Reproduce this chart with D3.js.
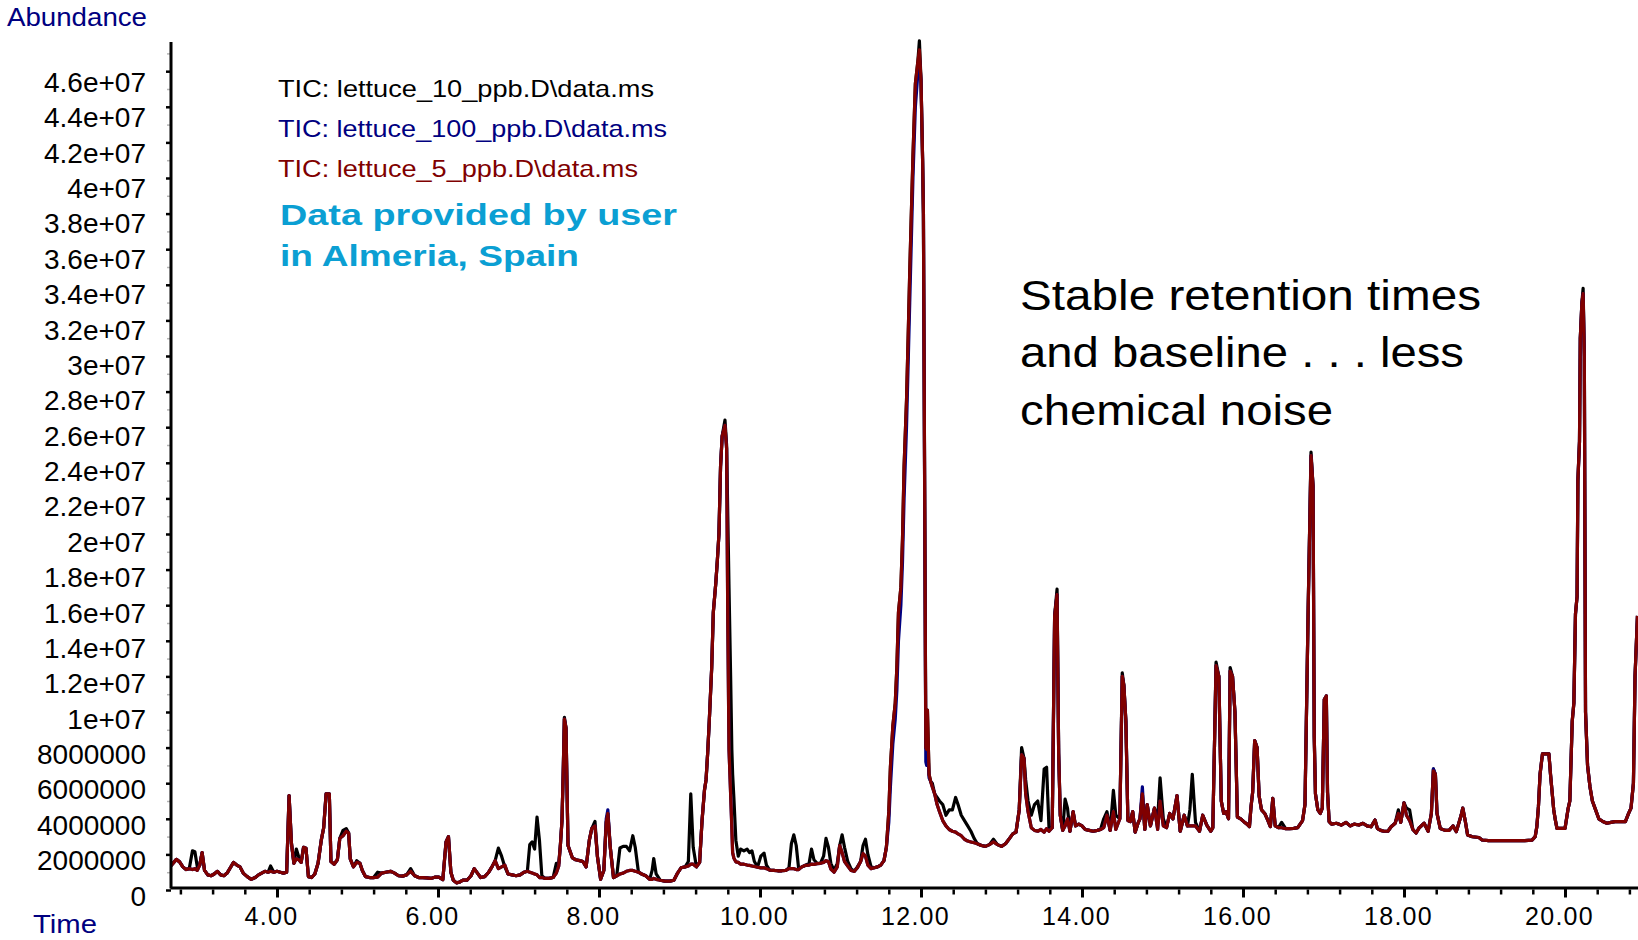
<!DOCTYPE html>
<html>
<head>
<meta charset="utf-8">
<script src="https://cdn.jsdelivr.net/npm/d3@7"></script>
<style>
  html, body { margin: 0; padding: 0; background: #ffffff; }
  svg { display: block; }
  text { font-family: "Liberation Sans", Arial, Helvetica, sans-serif; }
</style>
</head>
<body>
<svg id="chart" width="1638" height="940"></svg>
<script>
// Retention time (min), shared by the three total ion chromatograms
const time = [
  2.67,2.75,2.79,2.83,2.87,2.91,2.95,2.98,3.01,3.04,
  3.07,3.10,3.14,3.18,3.22,3.26,3.30,3.34,3.38,3.42,
  3.46,3.50,3.54,3.58,3.63,3.68,3.73,3.77,3.81,3.85,
  3.89,3.92,3.96,4.00,4.04,4.08,4.12,4.15,4.18,4.21,
  4.24,4.27,4.30,4.33,4.36,4.39,4.43,4.47,4.51,4.55,
  4.58,4.61,4.65,4.67,4.71,4.75,4.78,4.82,4.86,4.89,
  4.91,4.95,4.99,5.03,5.06,5.10,5.15,5.20,5.25,5.30,
  5.35,5.41,5.46,5.51,5.56,5.61,5.66,5.71,5.76,5.81,
  5.86,5.91,5.96,6.01,6.06,6.10,6.13,6.16,6.19,6.23,
  6.27,6.31,6.36,6.41,6.45,6.49,6.53,6.58,6.63,6.67,
  6.71,6.75,6.79,6.83,6.87,6.92,6.97,7.02,7.07,7.11,
  7.14,7.17,7.20,7.23,7.26,7.29,7.33,7.38,7.43,7.47,
  7.50,7.52,7.54,7.555,7.57,7.59,7.615,7.67,7.71,7.76,
  7.80,7.84,7.88,7.91,7.95,7.98,8.02,8.06,8.09,8.11,
  8.14,8.18,8.22,8.26,8.30,8.34,8.38,8.42,8.45,8.49,
  8.53,8.58,8.63,8.66,8.68,8.71,8.76,8.82,8.88,8.93,
  8.97,9.02,9.07,9.11,9.14,9.17,9.21,9.25,9.28,9.31,
  9.33,9.35,9.37,9.40,9.42,9.45,9.47,9.49,9.51,9.53,
  9.565,9.585,9.60,9.615,9.635,9.65,9.66,9.675,9.70,9.73,
  9.76,9.80,9.84,9.87,9.90,9.93,9.97,10.01,10.05,10.08,
  10.12,10.17,10.22,10.27,10.32,10.36,10.39,10.42,10.45,10.48,
  10.52,10.56,10.61,10.64,10.67,10.71,10.75,10.79,10.82,10.85,
  10.88,10.92,10.96,10.99,11.02,11.05,11.09,11.13,11.17,11.21,
  11.25,11.28,11.31,11.34,11.38,11.42,11.46,11.50,11.54,11.57,
  11.60,11.62,11.65,11.68,11.70,11.72,11.75,11.77,11.79,11.82,
  11.84,11.86,11.88,11.90,11.93,11.96,11.98,12.00,12.02,12.03,
  12.06,12.07,12.08,12.10,12.12,12.14,12.17,12.20,12.23,12.27,
  12.31,12.35,12.39,12.43,12.46,12.50,12.54,12.58,12.62,12.66,
  12.70,12.75,12.80,12.85,12.90,12.95,13.00,13.05,13.10,13.14,
  13.18,13.22,13.25,13.28,13.30,13.33,13.37,13.41,13.45,13.49,
  13.53,13.56,13.59,13.63,13.66,13.69,13.71,13.73,13.76,13.79,
  13.82,13.85,13.89,13.92,13.96,14.00,14.04,14.09,14.14,14.19,
  14.23,14.27,14.31,14.35,14.39,14.42,14.47,14.50,14.52,14.545,
  14.57,14.60,14.63,14.66,14.70,14.72,14.75,14.78,14.81,14.85,
  14.90,14.94,14.97,15.01,15.05,15.09,15.13,15.18,15.22,15.27,
  15.31,15.34,15.37,15.41,15.46,15.50,15.55,15.60,15.625,15.645,
  15.665,15.70,15.73,15.76,15.79,15.82,15.84,15.87,15.90,15.93,
  15.97,16.01,16.05,16.08,16.10,16.12,16.145,16.175,16.20,16.23,
  16.27,16.31,16.34,16.37,16.40,16.44,16.48,16.53,16.58,16.63,
  16.68,16.74,16.77,16.81,16.845,16.87,16.885,16.90,16.93,16.96,
  16.985,17.01,17.035,17.05,17.07,17.10,17.16,17.22,17.28,17.33,
  17.38,17.44,17.49,17.54,17.59,17.64,17.67,17.71,17.75,17.80,
  17.84,17.89,17.93,17.96,18.00,18.03,18.07,18.11,18.15,18.19,
  18.25,18.30,18.34,18.365,18.39,18.41,18.45,18.51,18.56,18.61,
  18.65,18.71,18.73,18.76,18.79,18.85,18.93,18.97,19.05,19.20,
  19.35,19.50,19.59,19.63,19.65,19.67,19.69,19.72,19.80,19.82,
  19.86,19.88,19.90,19.95,20.00,20.04,20.06,20.09,20.11,20.13,
  20.15,20.16,20.18,20.19,20.21,20.225,20.24,20.255,20.28,20.31,
  20.34,20.38,20.42,20.47,20.52,20.57,20.62,20.68,20.75,20.79,
  20.82,20.85,20.87,20.90
];

// Abundance in millions of counts: lettuce_10_ppb
const tic10 = [
  1.30,1.72,1.58,1.30,1.15,1.20,2.20,2.15,1.30,1.40,
  2.10,1.10,0.85,0.80,0.90,1.05,0.85,0.80,0.95,1.25,
  1.55,1.40,1.30,0.95,0.75,0.60,0.70,0.85,0.95,1.05,
  1.00,1.35,1.00,1.05,1.00,0.95,1.00,5.30,2.60,1.50,
  2.30,1.85,1.55,2.40,2.35,0.75,0.70,0.90,1.50,2.80,
  3.50,5.40,5.40,1.60,1.45,1.70,2.90,3.35,3.45,3.20,
  1.75,1.30,1.65,1.50,1.10,0.75,0.70,0.70,1.00,0.95,
  1.00,1.05,0.95,0.80,0.78,0.85,1.20,0.80,0.70,0.70,
  0.68,0.65,0.72,0.72,0.58,2.70,3.00,1.00,0.55,0.40,
  0.45,0.55,0.55,0.80,1.20,0.95,0.70,0.75,1.00,1.30,
  1.65,2.35,1.90,1.30,0.90,0.85,0.80,0.85,1.00,1.05,
  2.55,2.70,2.30,4.10,2.80,0.80,0.65,0.65,0.70,1.50,
  1.50,2.50,3.90,6.50,9.70,9.10,2.50,1.80,1.70,1.65,
  1.60,1.30,2.80,3.45,3.85,1.90,0.60,1.10,3.80,4.30,
  2.40,0.70,0.80,2.36,2.45,2.45,2.20,3.05,2.40,1.00,
  0.90,0.80,0.60,1.10,1.77,0.90,0.55,0.50,0.50,0.55,
  0.90,1.25,1.30,1.60,5.40,2.40,1.30,1.55,3.90,5.60,
  6.20,7.70,9.50,12.5,15.6,17.2,18.5,20.0,23.8,25.5,
  26.4,25.0,21.0,17.0,12.0,7.9,6.5,5.2,2.80,1.90,
  2.30,2.20,2.30,2.10,2.20,1.60,1.30,1.90,2.07,1.40,
  1.12,1.10,1.08,1.08,1.10,1.25,2.60,3.10,2.50,1.20,
  1.30,1.38,1.50,2.30,1.70,1.50,1.50,1.90,2.90,2.40,
  1.50,1.10,1.50,2.50,3.10,2.40,1.60,1.20,1.05,1.30,
  1.60,2.50,2.85,2.00,1.30,1.25,1.30,1.40,1.65,2.40,
  4.40,6.90,9.20,10.5,12.5,15.6,17.0,19.7,23.8,27.5,
  31.0,34.7,38.0,41.2,45.3,46.5,47.7,45.5,41.0,38.0,
  8.0,7.9,10.1,6.5,6.1,6.0,5.4,5.2,5.0,4.8,
  4.2,4.5,4.5,5.2,4.8,4.2,3.9,3.6,3.3,2.9,
  2.60,2.50,2.45,2.55,2.85,2.55,2.45,2.60,2.90,3.15,
  3.25,4.50,8.0,7.40,6.2,5.0,4.2,4.8,5.0,3.9,
  6.8,6.9,3.5,3.50,15.4,16.9,7.7,4.2,3.35,5.1,
  4.6,3.30,4.40,3.60,3.70,3.60,3.40,3.35,3.30,3.35,
  3.40,4.0,4.4,3.35,5.6,4.2,4.00,12.2,11.5,9.5,
  3.9,3.84,4.40,3.25,3.80,4.00,5.40,3.40,4.80,3.60,
  4.60,4.0,6.3,4.0,3.50,4.30,4.00,5.30,3.30,4.20,
  3.60,4.5,6.5,3.8,3.30,4.20,3.65,3.30,3.5,8.0,
  12.8,12.0,5.0,4.3,4.4,4.0,12.5,12.0,10.0,4.1,
  4.0,3.84,3.70,3.56,4.70,5.50,8.40,8.00,5.30,4.50,
  4.30,3.90,3.56,5.15,3.60,3.50,3.8,3.45,3.45,3.46,
  3.50,3.90,4.80,15.9,24.6,22.7,8.6,5.4,4.5,4.3,
  4.6,10.7,10.9,5.5,3.84,3.70,3.75,3.65,3.80,3.60,
  3.70,3.65,3.75,3.60,3.55,3.93,3.45,3.35,3.30,3.30,
  3.55,3.75,4.5,3.80,4.90,4.6,4.5,3.40,3.20,3.50,
  3.75,3.30,4.30,6.8,6.50,4.30,3.46,3.35,3.35,3.60,
  3.28,4.20,4.60,3.90,3.09,2.99,2.95,2.81,2.77,2.77,
  2.77,2.77,2.80,3.00,3.56,4.68,6.50,7.65,7.65,6.50,
  4.50,3.93,3.46,3.46,3.46,4.60,5.00,9.50,10.5,15.5,
  16.5,23.0,25.2,31.0,33.0,33.8,30.0,10.0,7.0,5.8,
  5.0,4.5,4.0,3.85,3.75,3.80,3.84,3.84,3.84,4.30,
  4.60,6.00,12.0,15.4
];

// Abundance in millions of counts: lettuce_100_ppb
const tic100 = [
  1.30,1.72,1.58,1.30,1.15,1.20,1.15,1.20,1.10,1.40,
  2.10,1.10,0.85,0.80,0.90,1.05,0.85,0.80,0.95,1.25,
  1.55,1.40,1.30,0.95,0.75,0.60,0.70,0.85,0.95,1.05,
  1.00,1.05,1.00,1.05,1.00,0.95,1.00,5.30,2.60,1.50,
  1.75,1.70,1.55,2.40,2.35,0.75,0.70,0.90,1.50,2.80,
  3.50,5.40,5.40,1.60,1.45,1.70,2.90,3.05,3.30,3.20,
  1.75,1.30,1.55,1.50,1.10,0.75,0.70,0.70,0.72,0.95,
  1.00,1.05,0.95,0.80,0.78,0.85,1.05,0.80,0.70,0.70,
  0.68,0.65,0.72,0.72,0.58,2.70,3.00,1.00,0.55,0.40,
  0.45,0.55,0.55,0.80,1.20,0.95,0.70,0.75,1.00,1.30,
  1.65,1.20,1.30,1.40,0.90,0.85,0.80,0.85,1.00,1.05,
  1.00,0.95,0.90,0.85,0.70,0.70,0.65,0.65,0.70,0.95,
  1.35,2.50,3.90,6.50,9.60,9.10,2.50,1.80,1.70,1.65,
  1.60,1.30,2.80,3.45,3.60,1.90,0.60,1.10,4.00,4.50,
  2.40,0.70,0.80,0.90,0.95,1.05,1.10,1.10,1.05,1.00,
  0.90,0.80,0.60,0.60,0.65,0.60,0.55,0.50,0.50,0.55,
  0.90,1.25,1.30,1.35,1.45,1.45,1.30,1.55,3.90,5.60,
  6.20,7.70,9.50,12.5,15.6,17.2,18.5,20.0,23.8,25.5,
  26.1,24.8,15.0,7.9,5.4,3.5,2.1,1.8,1.58,1.55,
  1.45,1.45,1.40,1.38,1.35,1.32,1.28,1.24,1.25,1.20,
  1.12,1.10,1.08,1.08,1.10,1.20,1.20,1.20,1.15,1.15,
  1.30,1.38,1.40,1.45,1.44,1.48,1.50,1.55,1.65,1.60,
  1.18,1.00,1.30,2.50,2.10,1.60,1.35,1.10,1.05,1.25,
  1.60,2.05,1.90,1.40,1.20,1.25,1.30,1.40,1.65,2.40,
  3.8,5.8,8.2,9.6,11.2,14.0,16.0,18.4,22.0,26.0,
  29.5,33.0,36.5,40.0,44.0,45.8,46.8,45.5,41.0,38.0,
  7.2,7.0,8.5,6.3,6.1,5.8,5.4,4.8,4.4,3.9,
  3.6,3.4,3.3,3.25,3.15,3.05,2.85,2.75,2.70,2.65,
  2.60,2.50,2.45,2.55,2.70,2.55,2.45,2.60,2.90,3.15,
  3.25,4.50,7.60,7.40,5.40,4.40,3.50,3.35,3.30,3.40,
  3.25,3.45,3.30,3.50,15.4,16.6,7.7,4.2,3.35,3.60,
  4.00,3.30,4.40,3.60,3.70,3.60,3.40,3.35,3.30,3.35,
  3.40,3.50,4.20,3.35,4.40,3.40,4.00,12.0,11.5,9.5,
  3.9,3.84,4.40,3.25,3.80,4.00,5.80,3.40,4.80,3.60,
  4.60,3.40,5.00,3.60,3.50,4.30,4.00,5.30,3.30,4.20,
  3.60,3.60,3.60,3.60,3.30,4.20,3.65,3.30,3.5,8.0,
  12.6,12.0,5.0,4.3,4.4,4.0,12.3,12.0,10.0,4.1,
  4.0,3.84,3.70,3.56,4.70,5.50,8.40,8.00,5.30,4.50,
  4.30,3.90,3.56,5.15,3.60,3.50,3.50,3.45,3.45,3.46,
  3.50,3.90,4.80,15.9,24.4,22.7,8.6,5.4,4.5,4.3,
  4.6,10.7,10.9,5.5,3.84,3.70,3.75,3.65,3.80,3.60,
  3.70,3.65,3.75,3.60,3.55,3.93,3.45,3.35,3.30,3.30,
  3.55,3.75,4.30,3.80,4.90,4.20,3.90,3.40,3.20,3.50,
  3.75,3.30,4.30,6.8,6.50,4.30,3.46,3.35,3.35,3.60,
  3.28,4.20,4.60,3.90,3.09,2.99,2.95,2.81,2.77,2.77,
  2.77,2.77,2.80,3.00,3.56,4.68,6.50,7.65,7.65,6.50,
  4.50,3.93,3.46,3.46,3.46,4.60,5.00,9.50,10.5,15.5,
  16.5,23.0,25.2,31.0,33.0,33.5,30.0,10.0,7.0,5.8,
  5.0,4.5,4.0,3.85,3.75,3.80,3.84,3.84,3.84,4.30,
  4.60,6.00,12.0,15.4
];

// Abundance in millions of counts: lettuce_5_ppb
const tic5 = [
  1.30,1.72,1.58,1.30,1.15,1.20,1.15,1.20,1.10,1.40,
  2.10,1.10,0.85,0.80,0.90,1.05,0.85,0.80,0.95,1.25,
  1.55,1.40,1.30,0.95,0.75,0.60,0.70,0.85,0.95,1.05,
  1.00,1.05,1.00,1.05,1.00,0.95,1.00,5.30,2.60,1.50,
  1.75,1.70,1.55,2.40,2.35,0.75,0.70,0.90,1.50,2.80,
  3.50,5.40,5.40,1.60,1.45,1.70,2.90,3.05,3.30,3.20,
  1.75,1.30,1.55,1.50,1.10,0.75,0.70,0.70,0.72,0.95,
  1.00,1.05,0.95,0.80,0.78,0.85,1.05,0.80,0.70,0.70,
  0.68,0.65,0.72,0.72,0.58,2.70,3.00,1.00,0.55,0.40,
  0.45,0.55,0.55,0.80,1.20,0.95,0.70,0.75,1.00,1.30,
  1.65,1.20,1.30,1.40,0.90,0.85,0.80,0.85,1.00,1.05,
  1.00,0.95,0.90,0.85,0.70,0.70,0.65,0.65,0.70,0.95,
  1.35,2.50,3.90,6.50,9.60,9.10,2.50,1.80,1.70,1.65,
  1.60,1.30,2.80,3.45,3.60,1.90,0.60,1.10,3.80,4.30,
  2.40,0.70,0.80,0.90,0.95,1.05,1.10,1.10,1.05,1.00,
  0.90,0.80,0.60,0.60,0.65,0.60,0.55,0.50,0.50,0.55,
  0.90,1.25,1.30,1.35,1.45,1.45,1.30,1.55,3.90,5.60,
  6.20,7.70,9.50,12.5,15.6,17.2,18.5,20.0,23.8,25.5,
  26.1,24.8,15.0,7.9,5.4,3.5,2.1,1.8,1.58,1.55,
  1.45,1.45,1.40,1.38,1.35,1.32,1.28,1.24,1.25,1.20,
  1.12,1.10,1.08,1.08,1.10,1.20,1.20,1.20,1.15,1.15,
  1.30,1.38,1.40,1.45,1.44,1.48,1.50,1.55,1.65,1.60,
  1.18,1.00,1.30,2.50,2.10,1.60,1.35,1.10,1.05,1.25,
  1.60,2.05,1.90,1.40,1.20,1.25,1.30,1.40,1.65,2.40,
  4.40,6.90,9.20,10.5,12.5,15.6,17.0,19.7,23.8,27.5,
  31.0,34.7,38.0,41.2,45.3,46.5,47.2,45.5,41.0,38.0,
  8.0,7.9,10.1,6.5,6.1,5.8,5.4,4.8,4.4,3.9,
  3.6,3.4,3.3,3.25,3.15,3.05,2.85,2.75,2.70,2.65,
  2.60,2.50,2.45,2.55,2.70,2.55,2.45,2.60,2.90,3.15,
  3.25,4.50,7.60,7.40,5.40,4.40,3.50,3.35,3.30,3.40,
  3.25,3.45,3.30,3.50,15.4,16.6,7.7,4.2,3.35,3.60,
  4.00,3.30,4.40,3.60,3.70,3.60,3.40,3.35,3.30,3.35,
  3.40,3.50,4.20,3.35,4.40,3.40,4.00,12.0,11.5,9.5,
  3.9,3.84,4.40,3.25,3.80,4.00,5.40,3.40,4.80,3.60,
  4.60,3.40,5.00,3.60,3.50,4.30,4.00,5.30,3.30,4.20,
  3.60,3.60,3.60,3.60,3.30,4.20,3.65,3.30,3.5,8.0,
  12.6,12.0,5.0,4.3,4.4,4.0,12.3,12.0,10.0,4.1,
  4.0,3.84,3.70,3.56,4.70,5.50,8.40,8.00,5.30,4.50,
  4.30,3.90,3.56,5.15,3.60,3.50,3.50,3.45,3.45,3.46,
  3.50,3.90,4.80,15.9,24.4,22.7,8.6,5.4,4.5,4.3,
  4.6,10.7,10.9,5.5,3.84,3.70,3.75,3.65,3.80,3.60,
  3.70,3.65,3.75,3.60,3.55,3.93,3.45,3.35,3.30,3.30,
  3.55,3.75,4.30,3.80,4.90,4.20,3.90,3.40,3.20,3.50,
  3.75,3.30,4.30,6.70,6.50,4.30,3.46,3.35,3.35,3.60,
  3.28,4.20,4.60,3.90,3.09,2.99,2.95,2.81,2.77,2.77,
  2.77,2.77,2.80,3.00,3.56,4.68,6.50,7.65,7.65,6.50,
  4.50,3.93,3.46,3.46,3.46,4.60,5.00,9.50,10.5,15.5,
  16.5,23.0,25.2,31.0,33.0,33.5,30.0,10.0,7.0,5.8,
  5.0,4.5,4.0,3.85,3.75,3.80,3.84,3.84,3.84,4.30,
  4.60,6.00,12.0,15.4
];

const seriesNames = [
  "TIC: lettuce_10_ppb.D\\data.ms",
  "TIC: lettuce_100_ppb.D\\data.ms",
  "TIC: lettuce_5_ppb.D\\data.ms"
];
const seriesColors = ["#000000", "#000080", "#800000"];

// Axis ticks (abundance ticks in millions)
const yTickValues = [0,2,4,6,8,10,12,14,16,18,20,22,24,26,28,30,32,34,36,38,40,42,44,46];
const yTickLabels = ["0","2000000","4000000","6000000","8000000","1e+07","1.2e+07","1.4e+07",
  "1.6e+07","1.8e+07","2e+07","2.2e+07","2.4e+07","2.6e+07","2.8e+07","3e+07","3.2e+07",
  "3.4e+07","3.6e+07","3.8e+07","4e+07","4.2e+07","4.4e+07","4.6e+07"];
const xTickValues = [4,6,8,10,12,14,16,18,20];
const xTickLabels = ["4.00","6.00","8.00","10.00","12.00","14.00","16.00","18.00","20.00"];

const noteLines = ["Stable retention times", "and baseline . . . less", "chemical noise"];
const creditLines = ["Data provided by user", "in Almeria, Spain"];

// ---------- scales ----------
const x = d3.scaleLinear().domain([2.6708, 20.9068]).range([170, 1638]);
const y = d3.scaleLinear().domain([0, 47.64]).range([890, 42]);
// tick labels sit a little below their ticks
const yLabel = d3.scaleLinear().domain([0, 46]).range([905, 91.5]);

const svg = d3.select("#chart");

// ---------- traces ----------
svg.append("defs").append("clipPath").attr("id", "plotClip")
  .append("rect").attr("x", 170).attr("y", 0).attr("width", 1468).attr("height", 890);

const traces = svg.append("g").attr("clip-path", "url(#plotClip)");
[tic10, tic100, tic5].forEach((vals, k) => {
  const line = d3.line()
    .x((d, i) => x(time[i]))
    .y(d => y(d));
  traces.append("path")
    .datum(vals)
    .attr("d", line)
    .attr("fill", "none")
    .attr("stroke", seriesColors[k])
    .attr("stroke-width", 3.2)
    .attr("stroke-linejoin", "round");
});

// ---------- y axis ----------
const yMinor = d3.range(1, 48, 2);
const gyMinor = svg.append("g").attr("transform", "translate(171,0)")
  .call(d3.axisLeft(y).tickValues(yMinor).tickSize(4).tickSizeOuter(0).tickFormat(""));
gyMinor.select(".domain").remove();
gyMinor.selectAll(".tick line").attr("stroke", "#b5b5b5").attr("stroke-width", 1.5);

const gy = svg.append("g").attr("transform", "translate(171,0)")
  .call(d3.axisLeft(y).tickValues(yTickValues).tickSize(5).tickSizeOuter(0).tickPadding(20)
    .tickFormat((d, i) => yTickLabels[i]));
gy.select(".domain").attr("stroke", "#000").attr("stroke-width", 3)
  .attr("d", "M0,888.5V42");
gy.selectAll(".tick line").attr("stroke", "#000").attr("stroke-width", 2.5);
gy.selectAll(".tick text")
  .attr("font-size", 28)
  .attr("font-family", '"Liberation Sans", Arial, sans-serif')
  .attr("fill", "#000")
  .attr("dy", 0)
  .attr("y", d => yLabel(d) - y(d));

// ---------- x axis ----------
const xMinor = d3.range(2.8, 20.85, 0.4).filter(t => Math.abs(t / 2 - Math.round(t / 2)) > 0.01);
const gxMinor = svg.append("g").attr("transform", "translate(0,887.5)")
  .call(d3.axisBottom(x).tickValues(xMinor).tickSize(7).tickSizeOuter(0).tickFormat(""));
gxMinor.select(".domain").remove();
gxMinor.selectAll(".tick line").attr("stroke", "#000").attr("stroke-width", 2.5).attr("y1", 2);

const gx = svg.append("g").attr("transform", "translate(0,887.5)")
  .call(d3.axisBottom(x).tickValues(xTickValues).tickSize(10).tickSizeOuter(0)
    .tickFormat((d, i) => xTickLabels[i]));
gx.select(".domain").attr("stroke", "#000").attr("stroke-width", 3);
gx.selectAll(".tick line").attr("stroke", "#000").attr("stroke-width", 3);
gx.selectAll(".tick text")
  .attr("font-size", 25)
  .attr("font-family", '"Liberation Sans", Arial, sans-serif')
  .attr("letter-spacing", "1.3px")
  .attr("fill", "#000")
  .attr("x", -6)
  .attr("y", 37.5)
  .attr("dy", 0);

// ---------- axis titles ----------
svg.append("text").attr("x", 7).attr("y", 26)
  .attr("font-size", 26).attr("fill", "#000080")
  .attr("textLength", 140).attr("lengthAdjust", "spacingAndGlyphs")
  .text("Abundance");
svg.append("text").attr("x", 33).attr("y", 933)
  .attr("font-size", 25).attr("fill", "#000080")
  .attr("textLength", 64).attr("lengthAdjust", "spacingAndGlyphs")
  .text("Time");

// ---------- legend ----------
const legendWidths = [376, 389, 360];
seriesNames.forEach((name, k) => {
  svg.append("text")
    .attr("x", 278).attr("y", 97 + k * 40)
    .attr("font-size", 24).attr("fill", seriesColors[k])
    .attr("textLength", legendWidths[k]).attr("lengthAdjust", "spacingAndGlyphs")
    .text(name);
});

// ---------- credit ----------
const creditWidths = [397, 299];
creditLines.forEach((line, k) => {
  svg.append("text")
    .attr("x", 280).attr("y", 225 + k * 41)
    .attr("font-size", 30).attr("font-weight", "bold").attr("fill", "#0b9fd3")
    .attr("textLength", creditWidths[k]).attr("lengthAdjust", "spacingAndGlyphs")
    .text(line);
});

// ---------- note ----------
const noteWidths = [461, 444, 313];
const noteBaselines = [309.5, 366.5, 424.5];
noteLines.forEach((line, k) => {
  svg.append("text")
    .attr("x", 1020).attr("y", noteBaselines[k])
    .attr("font-size", 42).attr("fill", "#000")
    .attr("textLength", noteWidths[k]).attr("lengthAdjust", "spacingAndGlyphs")
    .text(line);
});
</script>
</body>
</html>
